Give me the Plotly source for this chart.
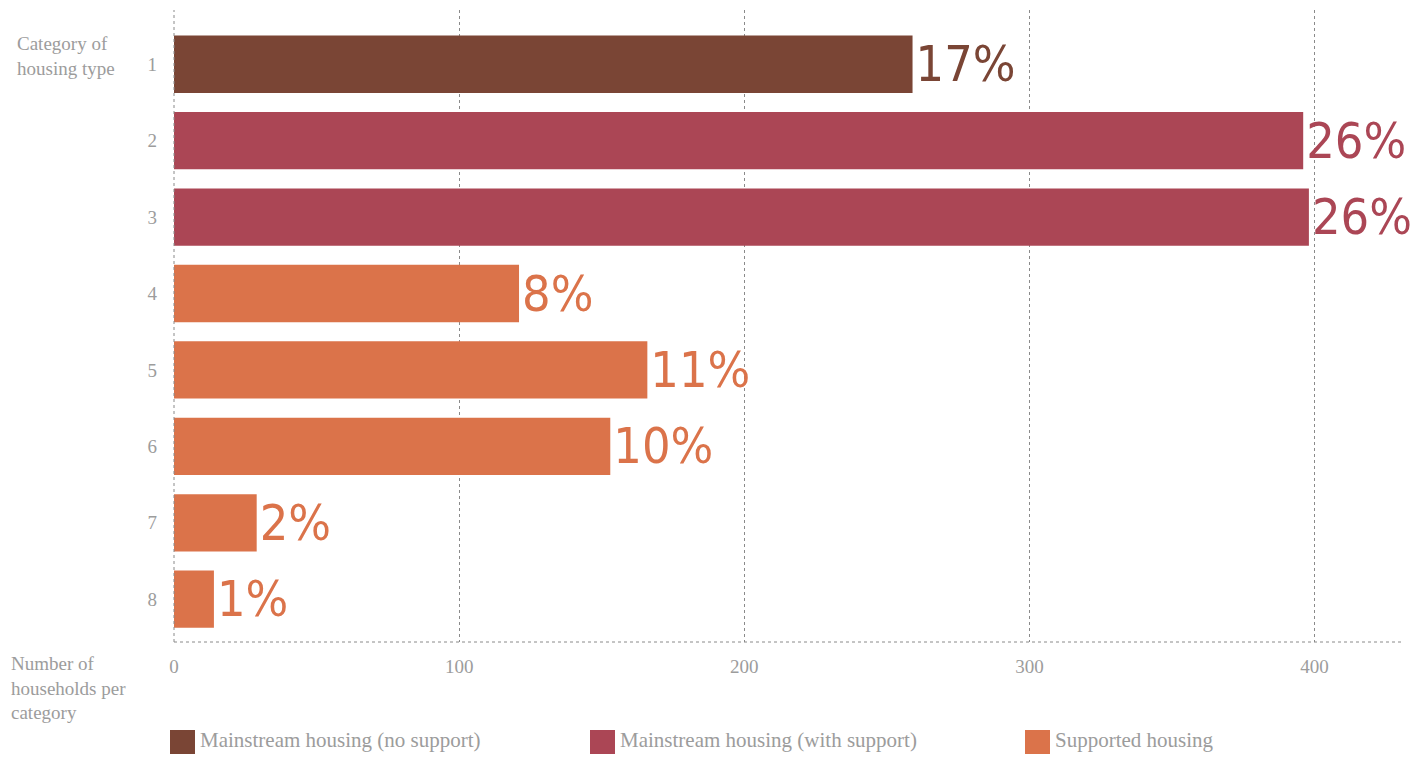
import plotly.graph_objects as go

categories = [1, 2, 3, 4, 5, 6, 7, 8]
households = [259, 396, 398, 121, 166, 153, 29, 14]
percent_labels = ["17%", "26%", "26%", "8%", "11%", "10%", "2%", "1%"]
housing_type = ["Mainstream housing (no support)",
                "Mainstream housing (with support)",
                "Mainstream housing (with support)",
                "Supported housing", "Supported housing", "Supported housing",
                "Supported housing", "Supported housing"]
series_names = ["Mainstream housing (no support)",
                "Mainstream housing (with support)",
                "Supported housing"]
series_colors = ["#7a4535", "#ab4655", "#db734a"]
x_ticks = [0, 100, 200, 300, 400]

GRAY = "#9c9c9c"
SERIF = "Liberation Serif, Times New Roman, serif"
HAND = "Liberation Sans Narrow, DejaVu Sans Condensed, Liberation Sans, sans-serif"

PW, PH = 1229, 632  # plot area size in px

fig = go.Figure()
for name, color in zip(series_names, series_colors):
    idx = [i for i, t in enumerate(housing_type) if t == name]
    fig.add_trace(go.Bar(
        y=[categories[i] for i in idx],
        x=[households[i] for i in idx],
        text=[percent_labels[i] for i in idx],
        orientation="h",
        name=name,
        marker=dict(color=color, line=dict(width=0)),
        width=0.75,
        textposition="outside",
        outsidetextfont=dict(family=HAND, size=50, color=color),
        cliponaxis=False,
        constraintext="none",
        hoverinfo="skip",
        showlegend=False,
    ))

shapes = [
    dict(type="line", xref="paper", yref="paper", x0=0, x1=1, y0=0, y1=0,
         line=dict(color="#8a8a8a", width=1, dash="dot")),
    dict(type="line", xref="paper", yref="paper", x0=0, x1=0, y0=0, y1=1,
         line=dict(color="#8a8a8a", width=1, dash="dot")),
]
annotations = [
    dict(text="Category of<br>housing type", xref="paper", yref="paper",
         x=-159 / PW, y=1 - 21 / PH, xanchor="left", yanchor="top", align="left",
         showarrow=False, font=dict(family=SERIF, size=19, color=GRAY)),
    dict(text="Number of<br>households per<br>category", xref="paper", yref="paper",
         x=-165 / PW, y=-9 / PH, xanchor="left", yanchor="top", align="left",
         showarrow=False, font=dict(family=SERIF, size=19, color=GRAY)),
]

# legend drawn manually (square swatch + label)
legend_offsets = [-4, 416, 851]
ly = -100 / PH
for name, color, off in zip(series_names, series_colors, legend_offsets):
    shapes.append(dict(type="rect", xref="paper", yref="paper",
                       x0=off / PW, x1=(off + 25) / PW,
                       y0=ly - 12 / PH, y1=ly + 12 / PH,
                       fillcolor=color, line=dict(width=0)))
    annotations.append(dict(text=name, xref="paper", yref="paper",
                            x=(off + 28) / PW, y=ly + 2 / PH, xanchor="left", yanchor="middle",
                            showarrow=False,
                            font=dict(family=SERIF, size=21, color=GRAY)))

fig.update_layout(
    width=1403, height=746,
    margin=dict(l=166, r=8, t=2, b=112),
    paper_bgcolor="white", plot_bgcolor="white",
    barmode="overlay",
    showlegend=False,
    font=dict(family=SERIF, color=GRAY, size=19),
    xaxis=dict(range=[0, 431], tickvals=x_ticks, showgrid=True, gridcolor="#8a8a8a",
               griddash="dot", gridwidth=1, zeroline=False, showline=False,
               ticks="", ticklabelstandoff=11, tickfont=dict(size=19, color=GRAY)),
    yaxis=dict(range=[8.56, 0.29], tickvals=categories, ticktext=[str(c) for c in categories],
               showgrid=False, zeroline=False, showline=False, ticks="",
               ticklabelstandoff=16, tickfont=dict(size=19, color=GRAY)),
    shapes=shapes,
    annotations=annotations,
)

fig.write_html("out.html")
